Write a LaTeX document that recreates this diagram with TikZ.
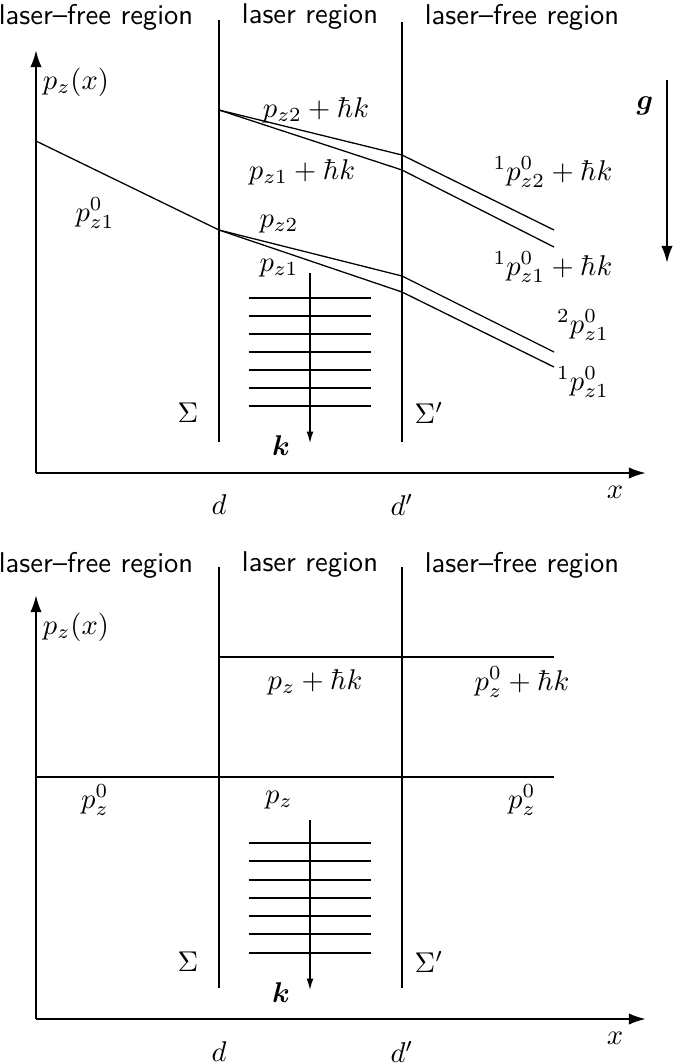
\documentclass[tikz,border=0pt]{standalone}
\usepackage{amsmath}
\usetikzlibrary{arrows.meta}
\begin{document}
\begin{tikzpicture}[x=0.35pt,y=-0.35pt,
  thinline/.style={line width=0.45pt},
  axis/.style={line width=0.8pt,-{Latex[length=6pt,width=4pt]}},
  lbl/.style={inner sep=0pt,anchor=center},
  hdr/.style={font=\sffamily,inner sep=0pt,anchor=center},
  wave/.style={line width=0.5pt},
  karrow/.style={line width=0.45pt,-{Latex[length=4pt,width=2.4pt]}}]
\useasboundingbox (0,0) rectangle (673,1064);

% ================= TOP PANEL =================
\node[hdr] (h11) at (96,17) {laser--free region};
\node[hdr] (h12) at (310,17) {laser region};
\node[hdr] (h13) at (522,17) {laser--free region};

\coordinate (O1) at (36,473);
\coordinate (Y1) at (36,50);
\coordinate (X1) at (646,473);
\draw[axis] (O1) -- (Y1);
\draw[axis] (O1) -- (X1);

\coordinate (S1t) at (219,20);  \coordinate (S1b) at (219,442);
\coordinate (T1t) at (402,22);  \coordinate (T1b) at (402,442);
\draw[thinline] (S1t) -- (S1b);
\draw[thinline] (T1t) -- (T1b);

\coordinate (A0) at (36,141);  \coordinate (A1) at (219,230);
\coordinate (B0) at (219,110); \coordinate (B1) at (402,155); \coordinate (B2) at (554,230);
\coordinate (C1) at (402,170); \coordinate (C2) at (554,247);
\coordinate (D1) at (402,276); \coordinate (D2) at (554,352);
\coordinate (E1) at (402,292); \coordinate (E2) at (554,367);
\draw[thinline] (A0) -- (A1);
\draw[thinline] (B0) -- (B1) -- (B2);
\draw[thinline] (B0) -- (C1) -- (C2);
\draw[thinline] (A1) -- (D1) -- (D2);
\draw[thinline] (A1) -- (E1) -- (E2);

\coordinate (G0) at (667,80); \coordinate (G1) at (667,263);
\draw[axis] (G0) -- (G1);
\node[lbl] (g) at (645,106) {$\boldsymbol{g}$};

\foreach \yy [count=\i] in {298,316,334,352,370,388,406} {
  \coordinate (wl\i) at (249,\yy); \coordinate (wr\i) at (371,\yy);
  \draw[wave] (wl\i) -- (wr\i);
}
\coordinate (K0) at (310,273); \coordinate (K1) at (310,443);
\draw[karrow] (K0) -- (K1);
\node[lbl] (k1) at (281,446) {$\boldsymbol{k}$};

\node[lbl] (pzx1) at (76,82) {$p_z(x)$};
\node[lbl] (l1) at (316,110) {$p_{z2}+\hbar k$};
\node[lbl] (l2) at (302,172) {$p_{z1}+\hbar k$};
\node[lbl] (l3) at (95,213) {$p^0_{z1}$};
\node[lbl] (l4) at (279,224) {$p_{z2}$};
\node[lbl] (l5) at (279,268) {$p_{z1}$};
\node[lbl] (l6) at (553,172) {${}^1p^0_{z2}+\hbar k$};
\node[lbl] (l7) at (553,267) {${}^1p^0_{z1}+\hbar k$};
\node[lbl] (l8) at (583,325) {${}^2p^0_{z1}$};
\node[lbl] (l9) at (583,382) {${}^1p^0_{z1}$};
\node[lbl] (sig1) at (188,413) {$\Sigma$};
\node[lbl] (sigp1) at (429,413) {$\Sigma'$};
\node[lbl] (d1) at (219,505) {$d$};
\node[lbl] (dp1) at (402,505) {$d'$};
\node[lbl] (x1) at (615,492) {$x$};

% ================= BOTTOM PANEL =================
\node[hdr] (h21) at (96,565) {laser--free region};
\node[hdr] (h22) at (310,565) {laser region};
\node[hdr] (h23) at (522,565) {laser--free region};

\coordinate (O2) at (36,1019);
\coordinate (Y2) at (36,595);
\coordinate (X2) at (646,1019);
\draw[axis] (O2) -- (Y2);
\draw[axis] (O2) -- (X2);

\coordinate (S2t) at (219,567);  \coordinate (S2b) at (219,988);
\coordinate (T2t) at (402,567);  \coordinate (T2b) at (402,988);
\draw[thinline] (S2t) -- (S2b);
\draw[thinline] (T2t) -- (T2b);

\coordinate (U0) at (219,657); \coordinate (U1) at (554,657);
\coordinate (V0) at (36,777);  \coordinate (V1) at (554,777);
\draw[thinline] (U0) -- (U1);
\draw[thinline] (V0) -- (V1);

\foreach \yy [count=\i] in {843,861,880,898,916,934,953} {
  \coordinate (vl\i) at (249,\yy); \coordinate (vr\i) at (371,\yy);
  \draw[wave] (vl\i) -- (vr\i);
}
\coordinate (K2) at (310,820); \coordinate (K3) at (310,990);
\draw[karrow] (K2) -- (K3);
\node[lbl] (k2) at (281,993) {$\boldsymbol{k}$};

\node[lbl] (pzx2) at (76,627) {$p_z(x)$};
\node[lbl] (m1) at (315,682) {$p_z+\hbar k$};
\node[lbl] (m2) at (522,682) {$p^0_z+\hbar k$};
\node[lbl] (m3) at (95,800) {$p^0_z$};
\node[lbl] (m4) at (279,800) {$p_z$};
\node[lbl] (m5) at (522,800) {$p^0_z$};
\node[lbl] (sig2) at (188,962) {$\Sigma$};
\node[lbl] (sigp2) at (429,962) {$\Sigma'$};
\node[lbl] (d2) at (219,1052) {$d$};
\node[lbl] (dp2) at (402,1052) {$d'$};
\node[lbl] (x2) at (615,1038) {$x$};
\end{tikzpicture}
\end{document}
